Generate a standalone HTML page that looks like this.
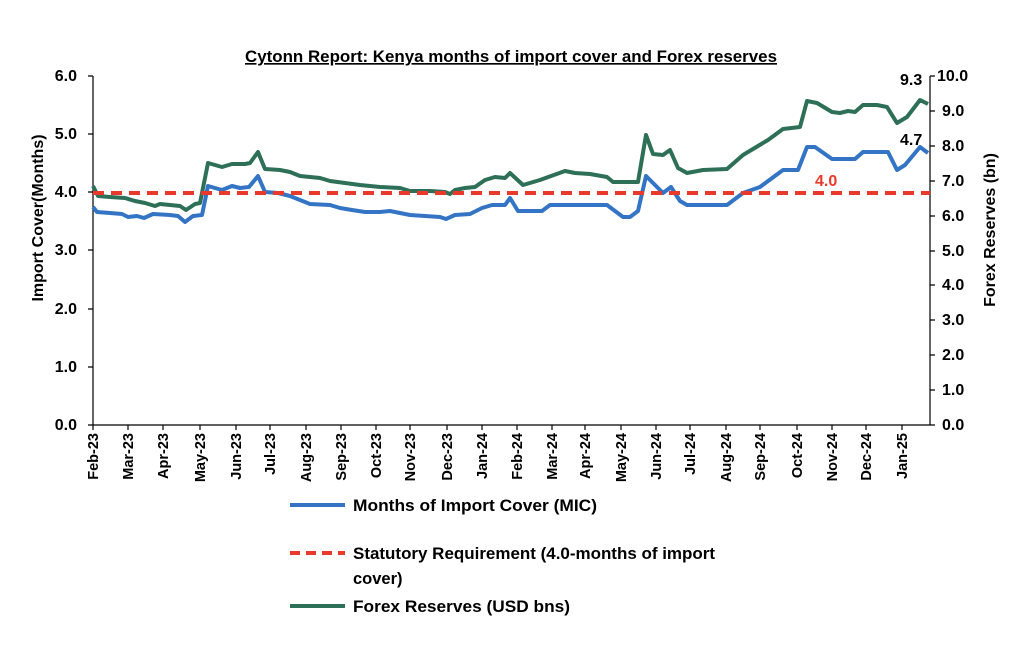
<!DOCTYPE html>
<html><head><meta charset="utf-8"><style>
body{margin:0;background:#fff}
svg text{font-family:"Liberation Sans",sans-serif;font-weight:bold;fill:#000}
</style></head><body>
<svg width="1024" height="642" viewBox="0 0 1024 642">
<text x="511" y="62" font-size="16.5" text-anchor="middle" text-decoration="underline" textLength="532" lengthAdjust="spacingAndGlyphs">Cytonn Report: Kenya months of import cover and Forex reserves</text>
<g stroke="#000" stroke-width="1.2" fill="none">
<line x1="93" y1="76" x2="93" y2="425"/>
<line x1="930" y1="76" x2="930" y2="425"/>
<line x1="93" y1="425" x2="930" y2="425"/>
<path d="M88 76h5M88 134h5M88 192h5M88 250h5M88 309h5M88 367h5M88 425h5"/>
<path d="M930 76h5M930 111h5M930 146h5M930 181h5M930 216h5M930 251h5M930 285h5M930 320h5M930 355h5M930 390h5M930 425h5"/>
<path d="M93 425v5M128 425v5M163 425v5M200 425v5M236 425v5M270 425v5M306 425v5M341 425v5M376 425v5M410 425v5M447 425v5M482 425v5M517 425v5M552 425v5M585 425v5M621 425v5M656 425v5M690 425v5M726 425v5M760 425v5M797 425v5M832 425v5M866 425v5M902 425v5"/>
</g>
<g font-size="16" text-anchor="end">
<text x="77" y="81">6.0</text><text x="77" y="139">5.0</text><text x="77" y="197">4.0</text><text x="77" y="255">3.0</text><text x="77" y="314">2.0</text><text x="77" y="372">1.0</text><text x="77" y="430">0.0</text>
</g>
<g font-size="16">
<text x="937" y="81">10.0</text><text x="942" y="116">9.0</text><text x="942" y="151">8.0</text><text x="942" y="186">7.0</text><text x="942" y="221">6.0</text><text x="942" y="256">5.0</text><text x="942" y="290">4.0</text><text x="942" y="325">3.0</text><text x="942" y="360">2.0</text><text x="942" y="395">1.0</text><text x="942" y="430">0.0</text>
</g>
<text transform="translate(43,218) rotate(-90)" font-size="16" text-anchor="middle">Import Cover(Months)</text>
<text transform="translate(995,230) rotate(-90)" font-size="16" text-anchor="middle">Forex Reserves (bn)</text>
<g font-size="14.5" text-anchor="end">
<text transform="translate(98,433) rotate(-90)">Feb-23</text>
<text transform="translate(133,433) rotate(-90)">Mar-23</text>
<text transform="translate(168,433) rotate(-90)">Apr-23</text>
<text transform="translate(205,433) rotate(-90)">May-23</text>
<text transform="translate(241,433) rotate(-90)">Jun-23</text>
<text transform="translate(275,433) rotate(-90)">Jul-23</text>
<text transform="translate(311,433) rotate(-90)">Aug-23</text>
<text transform="translate(346,433) rotate(-90)">Sep-23</text>
<text transform="translate(381,433) rotate(-90)">Oct-23</text>
<text transform="translate(415,433) rotate(-90)">Nov-23</text>
<text transform="translate(452,433) rotate(-90)">Dec-23</text>
<text transform="translate(487,433) rotate(-90)">Jan-24</text>
<text transform="translate(522,433) rotate(-90)">Feb-24</text>
<text transform="translate(557,433) rotate(-90)">Mar-24</text>
<text transform="translate(590,433) rotate(-90)">Apr-24</text>
<text transform="translate(626,433) rotate(-90)">May-24</text>
<text transform="translate(661,433) rotate(-90)">Jun-24</text>
<text transform="translate(695,433) rotate(-90)">Jul-24</text>
<text transform="translate(731,433) rotate(-90)">Aug-24</text>
<text transform="translate(765,433) rotate(-90)">Sep-24</text>
<text transform="translate(802,433) rotate(-90)">Oct-24</text>
<text transform="translate(837,433) rotate(-90)">Nov-24</text>
<text transform="translate(871,433) rotate(-90)">Dec-24</text>
<text transform="translate(907,433) rotate(-90)">Jan-25</text>
</g>
<polyline fill="none" stroke="#2e6f57" stroke-width="4" stroke-linejoin="round" points="93,186 98,196 110,197 125,198 135,201 145,203 155,206 160,204 170,205 180,206 186,210 195,204 200,203 208,163 222,167 232,164 245,164 250,163 258,152 265,169 280,170 290,172 300,176 320,178 330,181 345,183 360,185 380,187 400,188 410,191 430,191 445,192 450,194 455,190 465,188 475,187 485,180 495,177 505,178 510,173 523,185 540,180 565,171 575,173 590,174 607,177 613,182 638,182 646,135 653,154 663,155 670,150 678,168 687,173 703,170 727,169 743,155 768,140 783,129 800,127 807,101 817,103 832,112 840,113 848,111 855,112 863,105 877,105 887,107 897,123 907,117 920,100 928,104"/>
<polyline fill="none" stroke="#3474c4" stroke-width="4" stroke-linejoin="round" points="93,207 97,212 110,213 122,214 128,217 137,216 144,218 153,214 170,215 178,216 185,222 193,216 202,215 208,186 222,190 232,186 240,188 249,187 258,176 265,192 278,193 290,196 300,200 310,204 330,205 340,208 352,210 365,212 380,212 390,211 400,213 410,215 425,216 440,217 446,219 455,215 470,214 482,208 492,205 505,205 510,198 518,211 542,211 550,205 607,205 623,217 630,217 638,211 646,176 657,187 663,193 671,187 680,201 687,205 727,205 743,193 760,187 783,170 798,170 807,147 815,147 832,159 855,159 863,152 888,152 897,170 905,165 920,147 928,153"/>
<line x1="93" y1="193" x2="930" y2="193" stroke="#e8392b" stroke-width="4" stroke-dasharray="11,7"/>
<text x="815" y="186" font-size="16" style="fill:#e8392b">4.0</text>
<text x="900" y="145" font-size="16">4.7</text>
<text x="900" y="85" font-size="16">9.3</text>
<line x1="290" y1="505" x2="345" y2="505" stroke="#3474c4" stroke-width="4"/>
<text x="353" y="511" font-size="16.5" textLength="244" lengthAdjust="spacingAndGlyphs">Months of Import Cover (MIC)</text>
<line x1="290" y1="553" x2="345" y2="553" stroke="#e8392b" stroke-width="4" stroke-dasharray="10,6"/>
<text x="353" y="559" font-size="16.5" textLength="362" lengthAdjust="spacingAndGlyphs">Statutory Requirement (4.0-months of import</text>
<text x="353" y="584" font-size="16.5">cover)</text>
<line x1="290" y1="606" x2="345" y2="606" stroke="#2e6f57" stroke-width="4"/>
<text x="353" y="612" font-size="16.5" textLength="217" lengthAdjust="spacingAndGlyphs">Forex Reserves (USD bns)</text>
</svg>
</body></html>
